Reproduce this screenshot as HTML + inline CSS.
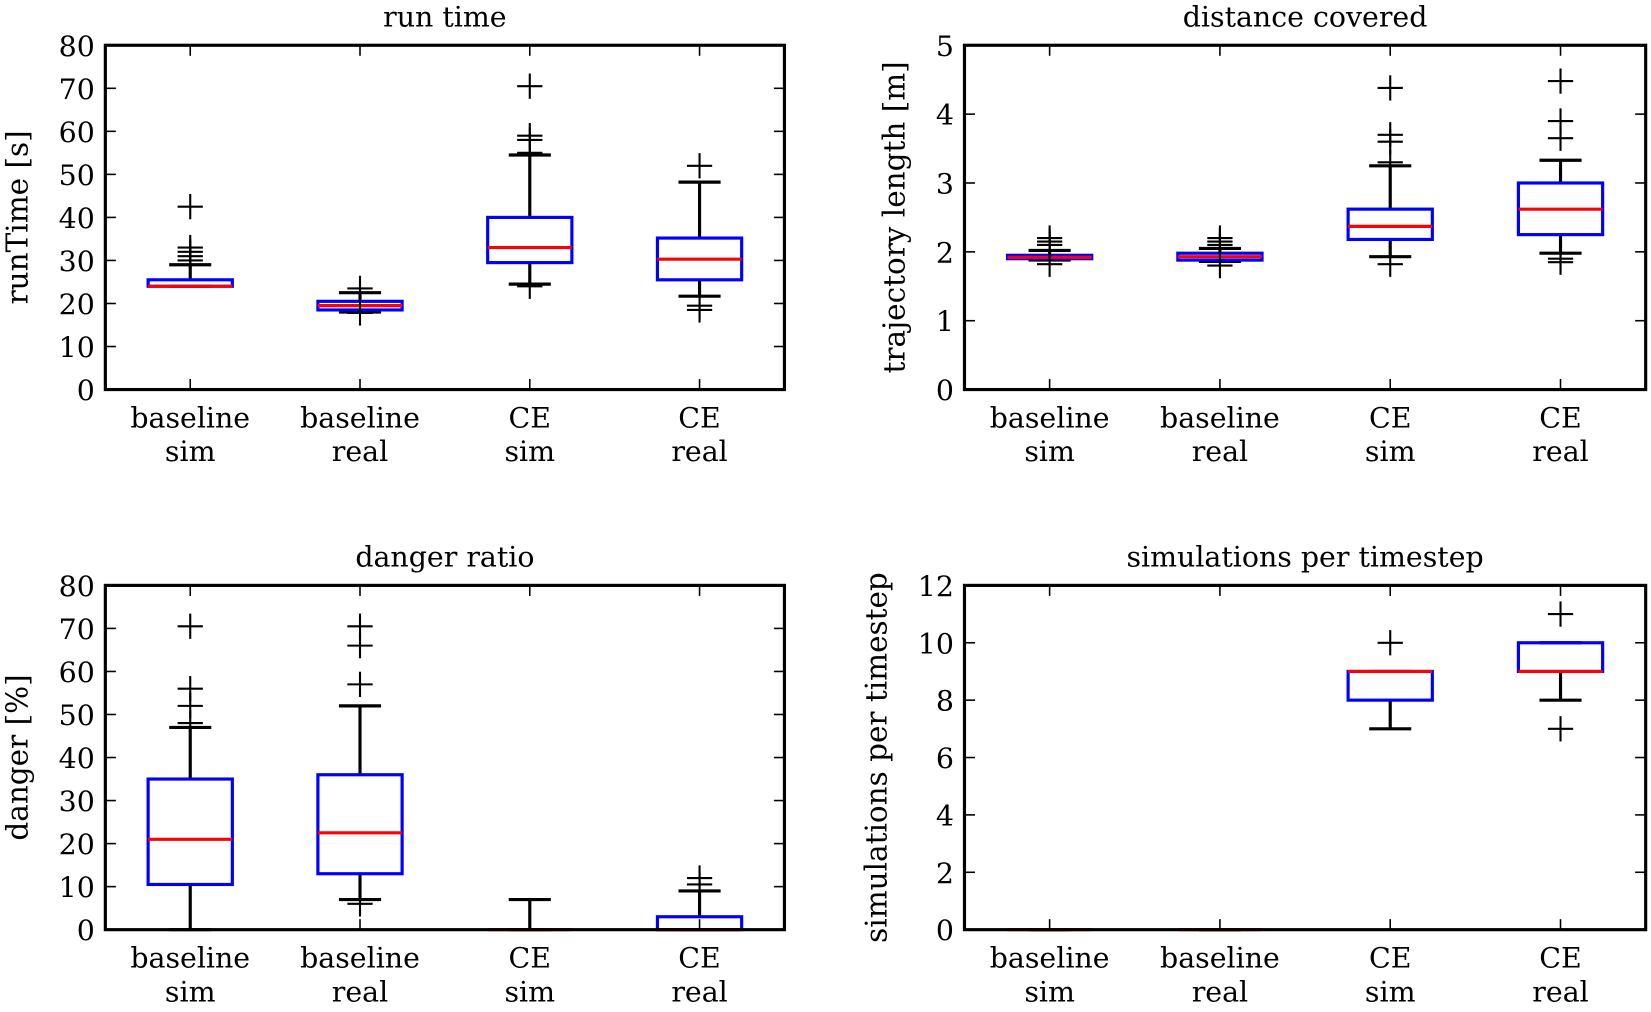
<!DOCTYPE html>
<html><head><meta charset="utf-8"><style>
html,body{margin:0;padding:0;background:#fff;}
svg{display:block;}
text{font-family:"DejaVu Serif","Liberation Serif",serif;fill:#000;}
</style></head><body>
<svg id="fig" width="1651" height="1012" viewBox="0 0 1568 961.2" xmlns="http://www.w3.org/2000/svg"></svg>
<script>
// category labels
const categories = [["baseline","sim"],["baseline","real"],["CE","sim"],["CE","real"]];
// run time
const runQ1 = [24, 18.5, 29.5, 25.5];
const runMed = [24, 19.5, 33, 30.3];
const runQ3 = [25.5, 20.5, 40, 35.2];
const runLo = [24, 18, 24.5, 21.7];
const runHi = [29, 22.5, 54.5, 48.2];
const runFliers = [[30, 31, 32, 33, 42.5], [17.8, 23.5], [24, 55, 58, 59, 70.5], [18.5, 19.5, 52]];
const runTicks = [0, 10, 20, 30, 40, 50, 60, 70, 80];
// distance
const distQ1 = [1.9, 1.88, 2.18, 2.25];
const distMed = [1.92, 1.93, 2.37, 2.62];
const distQ3 = [1.95, 1.98, 2.62, 3.0];
const distLo = [1.88, 1.86, 1.93, 1.98];
const distHi = [2.02, 2.05, 3.25, 3.33];
const distFliers = [[1.82, 2.1, 2.15, 2.2], [1.8, 2.1, 2.15, 2.2], [1.82, 3.3, 3.6, 3.7, 4.38], [1.85, 1.9, 3.65, 3.9, 4.48]];
const distTicks = [0, 1, 2, 3, 4, 5];
// danger
const dangQ1 = [10.5, 13, 0, 0];
const dangMed = [21, 22.5, 0, 0];
const dangQ3 = [35, 36, 0, 3];
const dangLo = [0, 7, 0, 0];
const dangHi = [47, 52, 7, 9];
const dangFliers = [[48, 52, 56, 70.5], [6, 57, 66, 70.5], [], [10.5, 12]];
const dangTicks = [0, 10, 20, 30, 40, 50, 60, 70, 80];
// simulations
const simQ1 = [0, 0, 8, 9];
const simMed = [0, 0, 9, 9];
const simQ3 = [0, 0, 9, 10];
const simLo = [0, 0, 7, 8];
const simHi = [0, 0, 9, 10];
const simFliers = [[], [], [10], [7, 11]];
const simTicks = [0, 2, 4, 6, 8, 10, 12];

const NS = "http://www.w3.org/2000/svg";
const svg = document.getElementById('fig');
function mk(tag, attrs, parent){const e=document.createElementNS(NS,tag);for(const k in attrs)e.setAttribute(k,attrs[k]);(parent||svg).appendChild(e);return e;}

const panels = [
 {name:'run-time', title:'run time', ylabel:'runTime [s]', L:100,R:745,T:43,B:370, ticks:runTicks, q1:runQ1, med:runMed, q3:runQ3, lo:runLo, hi:runHi, fl:runFliers, ylx:17},
 {name:'distance', title:'distance covered', ylabel:'trajectory length [m]', L:916,R:1563,T:43,B:370, ticks:distTicks, q1:distQ1, med:distMed, q3:distQ3, lo:distLo, hi:distHi, fl:distFliers, ylx:850},
 {name:'danger', title:'danger ratio', ylabel:'danger [%]', L:100,R:745,T:556,B:883, ticks:dangTicks, q1:dangQ1, med:dangMed, q3:dangQ3, lo:dangLo, hi:dangHi, fl:dangFliers, ylx:17},
 {name:'simulations', title:'simulations per timestep', ylabel:'simulations per timestep', L:916,R:1563,T:556,B:883, ticks:simTicks, q1:simQ1, med:simMed, q3:simQ3, lo:simLo, hi:simHi, fl:simFliers, ylx:833}
];

panels.forEach(p=>{
  const g = mk('g',{});
  
  
  const ymin=p.ticks[0], ymax=p.ticks[p.ticks.length-1];
  const y = v => p.B - (v-ymin)/(ymax-ymin)*(p.B-p.T);
  const step=(p.R-p.L)/4;
  const x = i => p.L + step*(i+0.5);
  const t = mk('text',{x:(p.L+p.R)/2,y:p.T-18,'text-anchor':'middle','font-size':27},g);
  t.textContent=p.title;
  
  
  const yl = mk('text',{x:0,y:0,'text-anchor':'middle','font-size':28,transform:`translate(${p.ylx+9},${(p.T+p.B)/2}) rotate(-90)`},g);
  yl.textContent=p.ylabel;
  
  
  p.ticks.forEach(v=>{
    const yy=y(v);
    mk('line',{x1:p.L,x2:p.L+10,y1:yy,y2:yy,stroke:'#000','stroke-width':1.5},g);
    mk('line',{x1:p.R,x2:p.R-10,y1:yy,y2:yy,stroke:'#000','stroke-width':1.5},g);
    const tl = mk('text',{x:p.L-10,y:yy+10,'text-anchor':'end','font-size':27},g);
    tl.textContent=String(v);
    
    
  });
  categories.forEach((c,i)=>{
    const xx=x(i);
    mk('line',{x1:xx,x2:xx,y1:p.B,y2:p.B-10,stroke:'#000','stroke-width':1.5},g);
    mk('line',{x1:xx,x2:xx,y1:p.T,y2:p.T+10,stroke:'#000','stroke-width':1.5},g);
    const a = mk('text',{x:xx,y:p.B+36,'text-anchor':'middle','font-size':27},g);
    a.textContent=c[0];
    
    
    const b = mk('text',{x:xx,y:p.B+68,'text-anchor':'middle','font-size':27},g);
    b.textContent=c[1];
    
    
    const bw=80, cw=40;
    const bg = mk('g',{},g);
    
    
    mk('line',{x1:xx,x2:xx,y1:y(p.q3[i]),y2:y(p.hi[i]),stroke:'#000','stroke-width':3},bg);
    mk('line',{x1:xx,x2:xx,y1:y(p.q1[i]),y2:y(p.lo[i]),stroke:'#000','stroke-width':3},bg);
    mk('line',{x1:xx-cw/2,x2:xx+cw/2,y1:y(p.hi[i]),y2:y(p.hi[i]),stroke:'#000','stroke-width':3},bg);
    mk('line',{x1:xx-cw/2,x2:xx+cw/2,y1:y(p.lo[i]),y2:y(p.lo[i]),stroke:'#000','stroke-width':3},bg);
    mk('rect',{x:xx-bw/2,y:y(p.q3[i]),width:bw,height:Math.max(0,y(p.q1[i])-y(p.q3[i])),fill:'none',stroke:'#0000ff','stroke-width':3},bg);
    mk('line',{x1:xx-bw/2,x2:xx+bw/2,y1:y(p.med[i]),y2:y(p.med[i]),stroke:'#ff0000','stroke-width':3},bg);
    p.fl[i].forEach(v=>{
      const fy=y(v);
      mk('line',{x1:xx-12,x2:xx+12,y1:fy,y2:fy,stroke:'#000','stroke-width':2},bg);
      mk('line',{x1:xx,x2:xx,y1:fy-12,y2:fy+12,stroke:'#000','stroke-width':2},bg);
    });
  });
  mk('rect',{x:p.L,y:p.T,width:p.R-p.L,height:p.B-p.T,fill:'none',stroke:'#000','stroke-width':3},g);
});
</script>
</body></html>
